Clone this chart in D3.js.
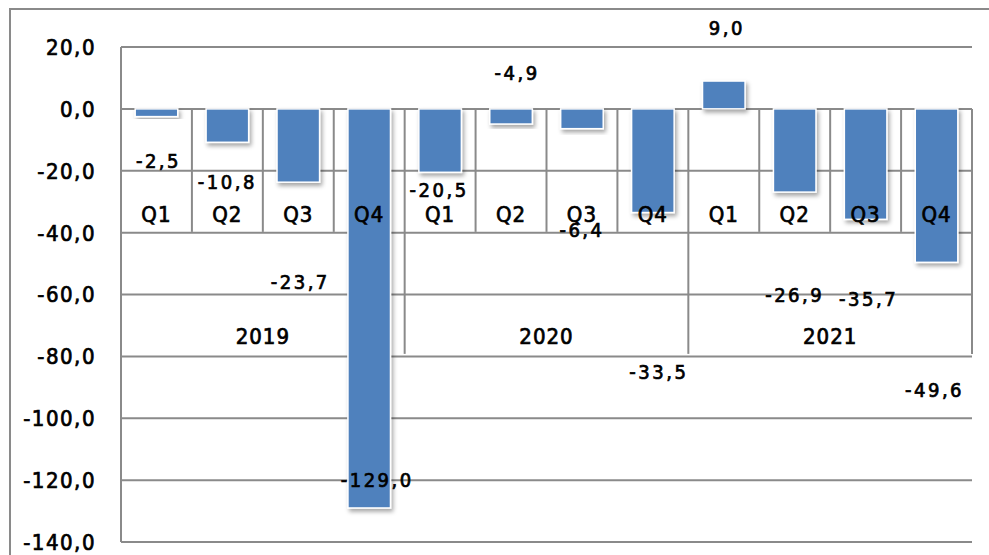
<!DOCTYPE html>
<html>
<head>
<meta charset="utf-8">
<script src="https://cdn.jsdelivr.net/npm/d3@7"></script>
<style>
  body { margin: 0; background: #fff; }
  svg text { font-family: "DejaVu Sans Condensed", "DejaVu Sans", sans-serif; fill: #000;
             stroke: #000; stroke-width: 0.7px; }
</style>
</head>
<body>
<svg id="chart" width="989" height="555"></svg>
<script>
// data =====================================================
var years = ["2019", "2020", "2021"];
var quarters = ["Q1", "Q2", "Q3", "Q4"];
var values = [-2.5, -10.8, -23.7, -129.0, -20.5, -4.9, -6.4, -33.5, 9.0, -26.9, -35.7, -49.6];
var yTicks = [20, 0, -20, -40, -60, -80, -100, -120, -140];

// data labels were hand placed in the original, offsets from the bar end (px)
var labelShift = [[2, 44], [0, 40], [2, 100], [8, -28], [-1, 18], [6, -51],
                  [0, 101], [6, 159], [3, -53], [0, 103], [3, 79], [-2, 127]];

// layout ===================================================
var svg = d3.select("#chart");
var plotLeft = 121, plotRight = 972, plotTop = 47, plotBottom = 542;
var qRowH = 123, yearRowH = 245;
var gridColor = "#8a8a8a";

var keys = [];
years.forEach(function(yr) { quarters.forEach(function(q) { keys.push(yr + "-" + q); }); });

var x = d3.scaleBand().domain(keys).range([plotLeft, plotRight]).paddingInner(0.4).paddingOuter(0.2);
var y = d3.scaleLinear().domain([-140, 20]).range([plotBottom, plotTop]);

var fmt = d3.formatLocale({decimal: ",", thousands: ".", grouping: [3], currency: ["", ""], minus: "-"}).format(".1f");

// shadow under the bars
var defs = svg.append("defs");
defs.append("filter").attr("id", "shadow")
    .attr("x", "-30%").attr("y", "-30%").attr("width", "160%").attr("height", "160%")
  .append("feDropShadow")
    .attr("dx", 2).attr("dy", 3).attr("stdDeviation", 2)
    .attr("flood-color", "#000").attr("flood-opacity", 0.35);

// outer frame
svg.append("rect")
    .attr("x", 10).attr("y", 9).attr("width", 1000).attr("height", 600)
    .attr("fill", "none").attr("stroke", gridColor).attr("stroke-width", 2);

// gridlines
svg.append("g").selectAll("line")
  .data(yTicks).enter().append("line")
    .attr("x1", plotLeft).attr("x2", plotRight)
    .attr("y1", function(d) { return y(d); })
    .attr("y2", function(d) { return y(d); })
    .attr("stroke", gridColor).attr("stroke-width", 2);

// value axis line
svg.append("line")
    .attr("x1", plotLeft).attr("x2", plotLeft).attr("y1", y(20)).attr("y2", y(-140))
    .attr("stroke", gridColor).attr("stroke-width", 2);

// y tick labels
svg.append("g").selectAll("text")
  .data(yTicks).enter().append("text")
    .attr("x", 96).attr("y", function(d) { return y(d); })
    .attr("dy", "0.36em")
    .attr("text-anchor", "end")
    .style("font-size", "22px").style("letter-spacing", "1.5px")
    .text(function(d) { return fmt(d); });

// category table dividers (quarter and year levels)
var step = x.step(), x0 = x.range()[0], y0 = y(0);
var dividers = d3.range(1, keys.length + 1);
svg.append("g").selectAll("line")
  .data(dividers).enter().append("line")
    .attr("x1", function(k) { return x0 + k * step; })
    .attr("x2", function(k) { return x0 + k * step; })
    .attr("y1", y0)
    .attr("y2", function(k) { return k % quarters.length == 0 ? y0 + yearRowH : y0 + qRowH; })
    .attr("stroke", gridColor).attr("stroke-width", 2);

// bars
svg.append("g").selectAll("rect")
  .data(values).enter().append("rect")
    .attr("x", function(d, i) { return x(keys[i]); })
    .attr("width", x.bandwidth())
    .attr("y", function(d) { return y(Math.max(0, d)); })
    .attr("height", function(d) { return Math.abs(y(d) - y(0)); })
    .attr("fill", "#4f81bd")
    .attr("stroke", "#fff").attr("stroke-width", 1.5)
    .attr("filter", "url(#shadow)");

// quarter labels
svg.append("g").selectAll("text")
  .data(keys).enter().append("text")
    .attr("x", function(d) { return x(d) + x.bandwidth() / 2; })
    .attr("y", y0 + 113)
    .attr("text-anchor", "middle")
    .style("font-size", "22px").style("letter-spacing", "1px")
    .text(function(d) { return d.split("-")[1]; });

// year labels
svg.append("g").selectAll("text")
  .data(years).enter().append("text")
    .attr("x", function(d, i) { return x0 + (i + 0.5) * quarters.length * step; })
    .attr("y", y0 + 235)
    .attr("text-anchor", "middle")
    .style("font-size", "22px").style("letter-spacing", "1px")
    .text(function(d) { return d; });

// data labels
svg.append("g").selectAll("text")
  .data(values).enter().append("text")
    .attr("x", function(d, i) { return x(keys[i]) + x.bandwidth() / 2 + labelShift[i][0]; })
    .attr("y", function(d, i) { return y(d) + labelShift[i][1]; })
    .attr("dy", "0.36em")
    .attr("text-anchor", "middle")
    .style("font-size", "20px").style("letter-spacing", "2.5px")
    .text(function(d) { return fmt(d); });
</script>
</body>
</html>
